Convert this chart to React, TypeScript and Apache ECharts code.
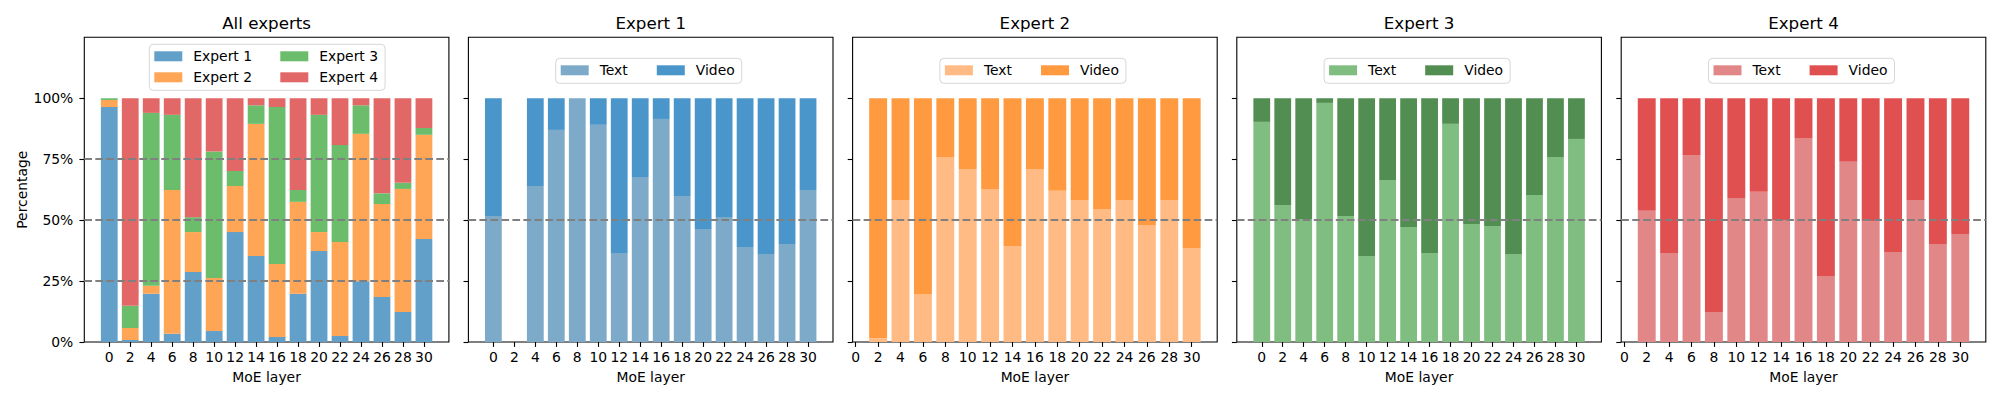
import React, { useEffect, useRef } from "react";
import * as echarts from "echarts";

const layers = [0, 2, 4, 6, 8, 10, 12, 14, 16, 18, 20, 22, 24, 26, 28, 30];
const yTicks = [0, 25, 50, 75, 100];

const allExpert1 = [96.4, 0.8, 19.8, 3.4, 28.7, 4.5, 45.1, 35.3, 2.1, 19.8, 37.3, 2.5, 24.9, 18.5, 12.3, 42.3];
const allExpert2 = [2.9, 4.9, 3.3, 59.0, 16.4, 21.8, 18.9, 54.2, 29.9, 37.7, 7.8, 38.5, 60.5, 38.1, 50.5, 42.7];
const allExpert3 = [0.7, 9.2, 70.9, 30.8, 6.1, 51.9, 6.2, 7.6, 64.4, 4.9, 48.1, 39.8, 11.7, 4.4, 2.5, 2.8];
const allExpert4 = [0, 85.1, 6.0, 6.8, 48.8, 21.8, 29.8, 2.9, 3.6, 37.6, 6.8, 19.2, 2.9, 39.0, 34.7, 12.2];

const e1Text = [51.7, null, 64.0, 87.0, 100, 89.1, 36.5, 67.7, 91.5, 59.9, 46.4, 51.3, 39.0, 36.1, 40.2, 62.4];
const e1Video = [48.3, null, 36.0, 13.0, 0, 10.9, 63.5, 32.3, 8.5, 40.1, 53.6, 48.7, 61.0, 63.9, 59.8, 37.6];
const e2Text = [null, 1.6, 58.3, 19.7, 75.9, 71.0, 62.8, 39.4, 71.0, 62.0, 58.3, 54.6, 58.3, 48.0, 58.3, 38.6];
const e2Video = [null, 98.4, 41.7, 80.3, 24.1, 29.0, 37.2, 60.6, 29.0, 38.0, 41.7, 45.4, 41.7, 52.0, 41.7, 61.4];
const e3Text = [90.3, 56.2, 50.5, 98.1, 51.7, 35.3, 66.5, 47.2, 36.5, 89.5, 48.4, 47.6, 36.1, 60.3, 75.9, 83.3];
const e3Video = [9.7, 43.8, 49.5, 1.9, 48.3, 64.7, 33.5, 52.8, 63.5, 10.5, 51.6, 52.4, 63.9, 39.7, 24.1, 16.7];
const e4Text = [null, 53.8, 36.5, 76.7, 12.3, 59.1, 61.6, 50.1, 83.7, 27.1, 73.9, 49.4, 36.9, 58.3, 40.2, 44.3];
const e4Video = [null, 46.2, 63.5, 23.3, 87.7, 40.9, 38.4, 49.9, 16.3, 72.9, 26.1, 50.6, 63.1, 41.7, 59.8, 55.7];

const panelTitles = ["All experts", "Expert 1", "Expert 2", "Expert 3", "Expert 4"];
const expertNames = ["Expert 1", "Expert 2", "Expert 3", "Expert 4"];
const allColors = ["#62a0ca", "#ffa556", "#6bbc6b", "#e26868"];
const textColors = ["#7eaac9", "#ffbb83", "#80bd80", "#e18788"];
const videoColors = ["#4a96cb", "#ff9a40", "#528e52", "#e05050"];

const FONT = "DejaVu Sans";

export default function App() {
  const ref = useRef<HTMLDivElement>(null);
  useEffect(() => {
    if (!ref.current) return;
    const chart = echarts.init(ref.current, undefined, { renderer: "svg" });

    const lefts = [84.3, 468.4, 852.6, 1236.8, 1621.2];
    const W = 364.6;
    const TOP = 37.3;
    const H = 304.7;
    const xMins = [-2.38, -2.38, -0.28, -2.38, -0.28];
    const xMaxs = [32.38, 32.38, 32.28, 32.38, 32.28];

    // value first, layer second: keeps stacking on the value dimension
    const toPairs = (arr: (number | null)[]) =>
      layers.map((l, i) => [arr[i] === null ? "-" : arr[i], l]);

    const grids = lefts.map((l) => ({
      left: l, top: TOP, width: W, height: H, show: true,
      borderColor: "#000", borderWidth: 1.1, backgroundColor: "transparent",
    }));

    const xAxes = lefts.map((_, i) => ({
      type: "value", gridIndex: i, min: xMins[i], max: xMaxs[i],
      axisLine: { show: false, onZero: false }, splitLine: { show: false },
      axisTick: { show: true, customValues: layers, length: 4.9, lineStyle: { color: "#000", width: 1.1 } },
      axisLabel: { show: true, customValues: layers, margin: 8, color: "#000", fontSize: 13.9, fontFamily: FONT },
    }));

    const yAxes = lefts.map((_, i) => ({
      type: "value", gridIndex: i, min: 0, max: 125,
      axisLine: { show: false, onZero: false }, splitLine: { show: false },
      axisTick: { show: true, customValues: yTicks, length: 4.9, lineStyle: { color: "#000", width: 1.1 } },
      axisLabel: {
        show: i === 0, customValues: yTicks, margin: 11, color: "#000", fontSize: 13.9, fontFamily: FONT,
        formatter: (v: number) => `${v}%`,
      },
    }));

    const barW = (i: number) => (W / (xMaxs[i] - xMins[i])) * 1.6;

    const dashLine = (values: number[]) => ({
      silent: true, symbol: ["none", "none"], label: { show: false },
      lineStyle: { color: "#808080", type: [7.7, 3.3], width: 2.1 },
      emphasis: { disabled: true },
      data: values.map((v) => ({ yAxis: v })),
    });

    const series: any[] = [];
    [allExpert1, allExpert2, allExpert3, allExpert4].forEach((d, k) => {
      series.push({
        type: "bar", name: expertNames[k], xAxisIndex: 0, yAxisIndex: 0, stack: "all",
        barWidth: barW(0), encode: { x: 1, y: 0 }, itemStyle: { color: allColors[k] },
        data: toPairs(d), ...(k === 3 ? { markLine: dashLine([25, 50, 75]) } : {}),
      });
    });
    const textData = [e1Text, e2Text, e3Text, e4Text];
    const videoData = [e1Video, e2Video, e3Video, e4Video];
    for (let k = 0; k < 4; k++) {
      const p = k + 1;
      series.push({
        type: "bar", name: `Text|${p}`, xAxisIndex: p, yAxisIndex: p, stack: `e${p}`,
        barWidth: barW(p), encode: { x: 1, y: 0 }, itemStyle: { color: textColors[k] },
        data: toPairs(textData[k]),
      });
      series.push({
        type: "bar", name: `Video|${p}`, xAxisIndex: p, yAxisIndex: p, stack: `e${p}`,
        barWidth: barW(p), encode: { x: 1, y: 0 }, itemStyle: { color: videoColors[k] },
        data: toPairs(videoData[k]), markLine: dashLine([50]),
      });
    }

    const legendBase = {
      orient: "horizontal", icon: "rect", itemWidth: 28, itemHeight: 10, selectedMode: false,
      backgroundColor: "rgba(255,255,255,0.8)", borderColor: "#d6d6d6", borderWidth: 1, borderRadius: 4,
      padding: [4, 7, 5, 5],
      formatter: (name: string) => name.split("|")[0],
      textStyle: { color: "#000", fontSize: 13.9, fontFamily: FONT, lineHeight: 16, padding: [0, 0, 0, 6] },
    };
    const legends: any[] = [{
      ...legendBase, left: 149.3, top: 44.3, width: 235, itemGap: 5,
      data: [
        { name: "Expert 1", textStyle: { width: 82 } }, { name: "Expert 3" },
        { name: "Expert 2", textStyle: { width: 82 } }, { name: "Expert 4" },
      ],
    }];
    for (let p = 1; p <= 4; p++) {
      const cx = lefts[p] + W / 2;
      legends.push({ ...legendBase, left: cx - 3 - 92, top: 58.3, itemGap: 29, data: [`Text|${p}`, `Video|${p}`] });
    }

    const graphics: any[] = [];
    lefts.forEach((l, i) => {
      graphics.push({ type: "text", x: l + W / 2, y: 22.7, style: { text: panelTitles[i], align: "center", verticalAlign: "middle", fontSize: 16.7, fontFamily: FONT, fill: "#000" } });
      graphics.push({ type: "text", x: l + W / 2, y: 377.3, style: { text: "MoE layer", align: "center", verticalAlign: "middle", fontSize: 13.9, fontFamily: FONT, fill: "#000" } });
    });
    graphics.push({ type: "text", x: 21.7, y: 189.7, rotation: Math.PI / 2, style: { text: "Percentage", align: "center", verticalAlign: "middle", fontSize: 13.9, fontFamily: FONT, fill: "#000" } });

    chart.setOption({
      animation: false, backgroundColor: "#fff", textStyle: { fontFamily: FONT },
      grid: grids, xAxis: xAxes, yAxis: yAxes, legend: legends, series, graphic: graphics,
    });
    return () => chart.dispose();
  }, []);

  return (
    <div
      ref={ref}
      style={{ position: "absolute", left: 0, top: 0, width: 2000, height: 400 }}
    />
  );
}
